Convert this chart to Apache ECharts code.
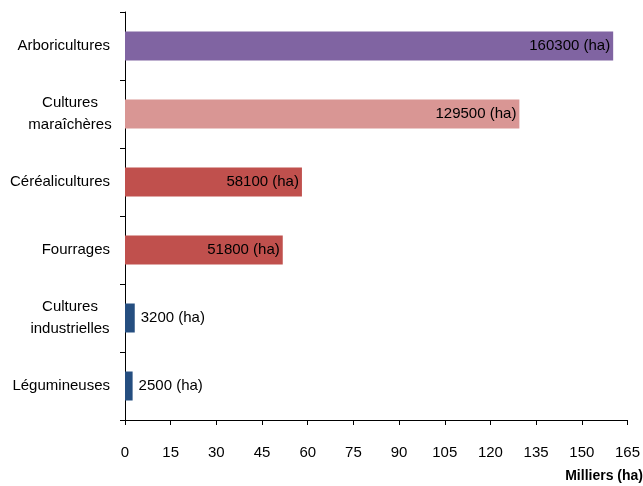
<!DOCTYPE html>
<html><head><meta charset="utf-8">
<script src="https://cdn.jsdelivr.net/npm/echarts@6/dist/echarts.min.js"></script>
<style>html,body{margin:0;padding:0;background:#fff}#c{width:643px;height:486px}</style>
</head><body><div id="c"></div>
<script>
const categories = ["Arboricultures", "Cultures\nmaraîchères", "Céréalicultures", "Fourrages", "Cultures\nindustrielles", "Légumineuses"];
const valuesThousandHa = [160.3, 129.5, 58.1, 51.8, 3.2, 2.5];
const valueLabels = ["160300 (ha)", "129500 (ha)", "58100 (ha)", "51800 (ha)", "3200 (ha)", "2500 (ha)"];
const barColors = ["#8064A2", "#D99694", "#C0504D", "#C0504D", "#254E80", "#254E80"];
const labelInside = [true, true, true, true, false, false];
const xTicks = [0, 15, 30, 45, 60, 75, 90, 105, 120, 135, 150, 165];
const axisName = "Milliers (ha)";

const FONT = '"Liberation Sans Narrow", "Arial Narrow", "Liberation Sans", sans-serif';
const chart = echarts.init(document.getElementById('c'), null, {renderer: 'canvas'});
chart.setOption({
  animation: false,
  backgroundColor: '#fff',
  grid: {left: 125, right: 15, top: 12, bottom: 66, containLabel: false},
  xAxis: {
    type: 'value', min: xTicks[0], max: xTicks[xTicks.length - 1], interval: 15,
    axisLine: {show: true, lineStyle: {color: '#000', width: 1}},
    axisTick: {show: true, length: 5, lineStyle: {color: '#000'}},
    splitLine: {show: false},
    axisLabel: {color: '#000', fontFamily: FONT, fontSize: 15, margin: 25}
  },
  yAxis: {
    type: 'category', data: categories, inverse: true,
    axisLine: {show: true, lineStyle: {color: '#000', width: 1}},
    axisTick: {show: true, length: 5, alignWithLabel: false, lineStyle: {color: '#000'}},
    axisLabel: {
      color: '#000', fontFamily: FONT, fontSize: 15, margin: 15, lineHeight: 22,
      formatter: function (v) {
        if (v.indexOf('\n') < 0) return v;
        return v.split('\n').map(function (s) { return '{c|' + s + '}'; }).join('\n');
      },
      rich: {c: {width: 80, align: 'center', fontFamily: FONT, fontSize: 15, color: '#000', lineHeight: 22}}
    }
  },
  series: [{
    type: 'bar',
    barWidth: 29,
    data: valuesThousandHa.map(function (v, i) {
      return {
        value: v,
        itemStyle: {color: barColors[i]},
        label: {
          show: true,
          position: labelInside[i] ? 'insideRight' : 'right',
          distance: labelInside[i] ? 3 : 6,
          formatter: valueLabels[i],
          color: '#000', fontFamily: FONT, fontSize: 15
        }
      };
    })
  }],
  graphic: [{
    type: 'text', right: 0, top: 469,
    style: {text: axisName, fontFamily: FONT, fontSize: 14, fontWeight: 'bold', fill: '#000'}
  }]
});
</script></body></html>
